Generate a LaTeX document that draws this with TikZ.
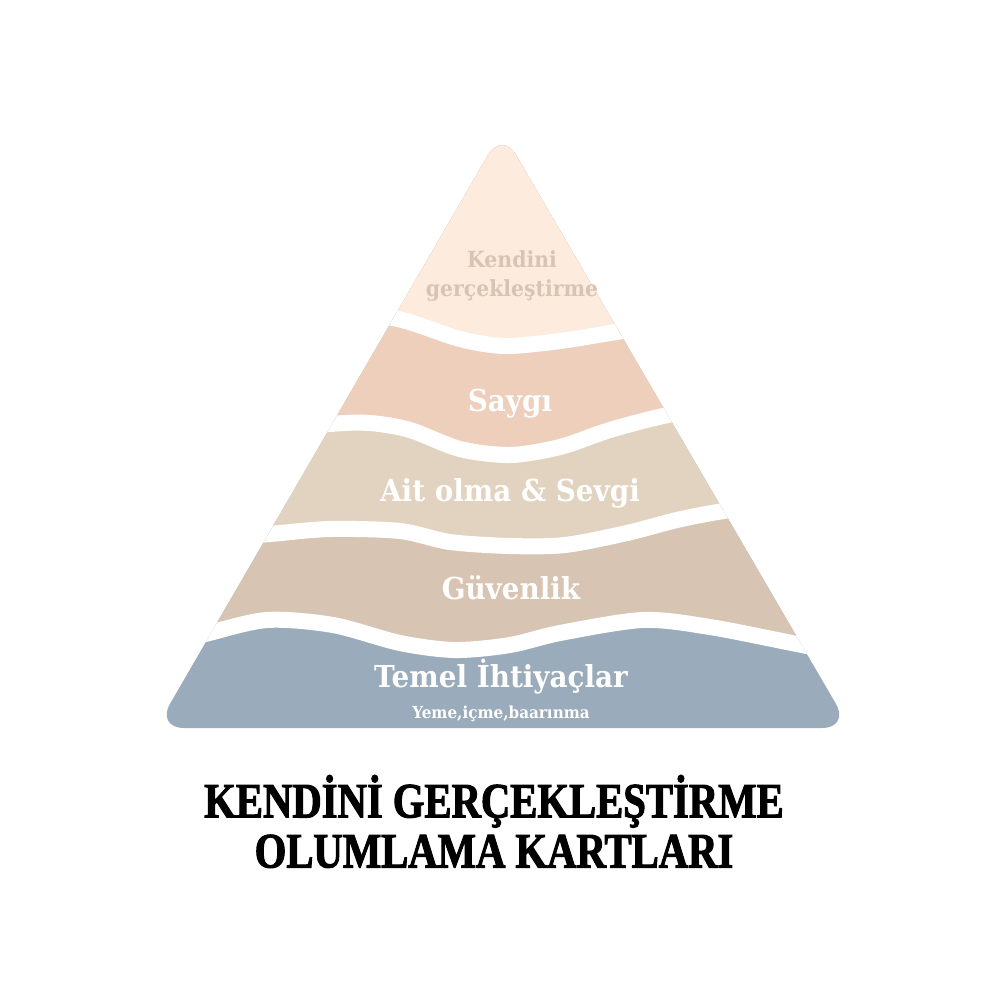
\documentclass[tikz,border=0pt]{standalone}
\usepackage{fontspec}
\usepackage{tikz}
\usetikzlibrary{positioning}

\newfontfamily\bandfont[FakeStretch=0.92]{DejaVu Serif}
\newfontfamily\titlefont[FakeStretch=0.82,FakeBold=2]{Liberation Serif}

\definecolor{tepe}{HTML}{FDEBDE}
\definecolor{saygi}{HTML}{EDCFBC}
\definecolor{ait}{HTML}{E2D3C0}
\definecolor{guven}{HTML}{D8C4B2}
\definecolor{temel}{HTML}{9AABBB}
\definecolor{soluk}{HTML}{D8C4B3}

\begin{document}
\begin{tikzpicture}[x=0.01cm, y=-0.01cm, on grid,
  katman/.style={fill=#1, draw=white, line width=0.16cm},
  etiket/.style={text=white, text height=6.5pt, text depth=2.2pt,
    font=\bandfont\bfseries\fontsize{8.6}{10}\selectfont},
  kucuk/.style={text=white, text height=3.5pt, text depth=1.2pt,
    font=\bandfont\bfseries\fontsize{4.7}{6}\selectfont},
  tepeyazi/.style={text=soluk, text height=4.8pt, text depth=1.6pt,
    font=\bandfont\bfseries\fontsize{6.3}{8}\selectfont},
  baslik/.style={text=black, text height=10.6pt, text depth=3.5pt,
    font=\titlefont\bfseries\fontsize{14.1}{16}\selectfont}]
  \useasboundingbox (0,0) rectangle (1000,1000);

  \coordinate (apex) at (502,131);
  \coordinate (sol) at (156,728);
  \coordinate (sag) at (850,728);

  \begin{scope}
    \clip[rounded corners=0.28cm] (apex) -- (sag) -- (sol) -- cycle;
    \fill[temel] (100,100) rectangle (900,800);
    \filldraw[katman=guven] plot[smooth] coordinates {(140,650) (205,634) (267,620)
      (333,625) (400,643) (455,650) (510,645) (560,633) (643,620) (710,627)
      (802,645) (870,658)} -- (870,0) -- (140,0) -- cycle;
    \filldraw[katman=ait] plot[smooth] coordinates {(200,540) (270,534) (330,529)
      (400,531) (450,542) (510,546) (565,545) (627,533) (677,520) (724,511)
      (790,503)} -- (790,0) -- (200,0) -- cycle;
    \filldraw[katman=saygi] plot[smooth] coordinates {(260,432) (330,424) (370,423)
      (410,430) (460,449) (510,455) (560,447) (610,430) (668,415) (740,404)}
      -- (740,0) -- (260,0) -- cycle;
    \filldraw[katman=tepe] plot[smooth] coordinates {(330,310) (398,319) (460,339)
      (505,346) (560,341) (623,331) (700,320)} -- (700,0) -- (330,0) -- cycle;
  \end{scope}

  \node[tepeyazi] (kendini) at (512,262) {Kendini};
  \node[tepeyazi, below=0.29cm of kendini] (gercek) {gerçekleştirme};
  \node[etiket] (saygiyazi) at (510,404) {Saygı};
  \node[etiket] (aityazi) at (510,494) {Ait olma \& Sevgi};
  \node[etiket] (guvenyazi) at (511,592) {Güvenlik};
  \node[etiket] (temelyazi) at (501,680) {Temel İhtiyaçlar};
  \node[kucuk, below=0.34cm of temelyazi] (yeme) {Yeme,içme,baarınma};

  \node[baslik] (baslik1) at (494,805) {KENDİNİ GERÇEKLEŞTİRME};
  \node[baslik, below=0.5cm of baslik1] (baslik2) {OLUMLAMA KARTLARI};
\end{tikzpicture}
\end{document}
